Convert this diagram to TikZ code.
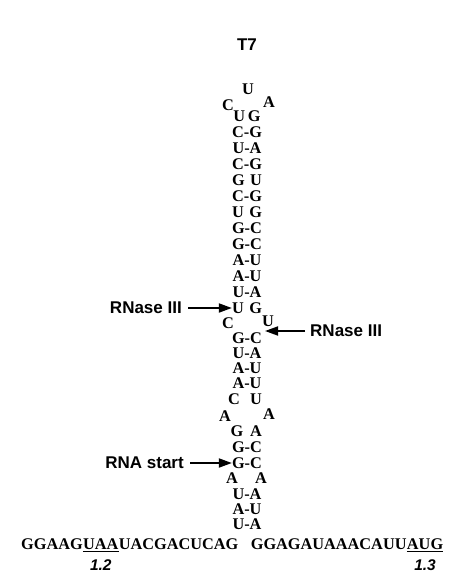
\documentclass[tikz,border=0pt]{standalone}
\usepackage{fontspec}
\setmainfont{Liberation Serif}
\newfontfamily\lsans{Liberation Sans}
\usetikzlibrary{arrows.meta,calc}
\tikzset{
  nt/.style={inner sep=0pt, font=\fontsize{16.3}{16}\selectfont\bfseries},
  lab/.style={inner sep=0pt, font=\lsans\fontsize{17}{17}\selectfont\bfseries},
  num/.style={inner sep=0pt, font=\lsans\fontsize{15.5}{15.5}\selectfont\bfseries\itshape},
  seq/.style={inner sep=0pt, anchor=base west, font=\fontsize{16.3}{16}\selectfont\bfseries},
  arr/.style={line width=1.8pt, -{Triangle[length=13pt,width=9pt]}},
  uline/.style={line width=1pt}
}
\newcommand{\gap}{\hphantom{-}}
\begin{document}
\begin{tikzpicture}[x=1pt,y=-1pt]
\useasboundingbox (0,0) rectangle (462,576);
% title
\node[lab] (t7) at (247,45) {T7};
% hairpin loop
\node[nt] (lU) at (248,89) {U};
\node[nt] (lC) at (228,105) {C};
\node[nt] (lA) at (269,102) {A};
\node[nt] (l0) at (247,116) {U\,G};
% upper stem
\node[nt] (r1) at (247,132) {C-G};
\node[nt] (r2) at (247,148) {U-A};
\node[nt] (r3) at (247,164) {C-G};
\node[nt] (r4) at (247,180) {G\gap U};
\node[nt] (r5) at (247,196) {C-G};
\node[nt] (r6) at (247,212) {U\gap G};
\node[nt] (r7) at (247,228) {G-C};
\node[nt] (r8) at (247,244) {G-C};
\node[nt] (r9) at (247,260) {A-U};
\node[nt] (r10) at (247,276) {A-U};
\node[nt] (r11) at (247,292) {U-A};
\node[nt] (r12) at (247,308) {U\gap G};
% bulge
\node[nt] (bC) at (228,323) {C};
\node[nt] (bU) at (268,321) {U};
% middle stem
\node[nt] (r13) at (247,338) {G-C};
\node[nt] (r14) at (247,353) {U-A};
\node[nt] (r15) at (247,368) {A-U};
\node[nt] (r16) at (247,383) {A-U};
\node[nt] (r17a) at (234,399) {C};
\node[nt] (r17b) at (256,399) {U};
% internal loop
\node[nt] (iA1) at (225,416) {A};
\node[nt] (iA2) at (269,414) {A};
\node[nt] (r18a) at (237,431) {G};
\node[nt] (r18b) at (256,431) {A};
\node[nt] (r19) at (247,447) {G-C};
\node[nt] (r20) at (247,463) {G-C};
\node[nt] (r21a) at (232,478) {A};
\node[nt] (r21b) at (261,478) {A};
\node[nt] (r22) at (247,494) {U-A};
\node[nt] (r23) at (247,509) {A-U};
\node[nt] (r24) at (247,524) {U-A};
% bottom sequence
\node[seq] (p1) at (21,549) {GGAAG};
\node[seq] (u1) at (p1.base east) {UAA};
\node[seq] (p2) at (u1.base east) {UACGACUCAG};
\node[seq] (p3) at ($(p2.base east)+(12,0)$) {GGAGAUAAACAUU};
\node[seq] (u2) at (p3.base east) {AUG};
\draw[uline] ($(u1.base west)+(0,2)$) -- ($(u1.base east)+(0,2)$);
\draw[uline] ($(u2.base west)+(0,2)$) -- ($(u2.base east)+(0,2)$);
\node[num] (n12) at ($(u1.base)+(0,16)$) {1.2};
\node[num] (n13) at ($(u2.base)+(0,16)$) {1.3};
% RNase III left
\node[lab, anchor=east] (rl) at (182,308) {RNase III};
\draw[arr] ($(rl.east)+(6,0)$) -- (r12.west);
% RNase III right
\node[lab, anchor=west] (rr) at (310,331) {RNase III};
\draw[arr] ($(rr.west)+(-5,0)$) -- (265,331);
% RNA start
\node[lab, anchor=east] (rs) at (184,463) {RNA start};
\draw[arr] ($(rs.east)+(6,0)$) -- (r20.west);
\end{tikzpicture}
\end{document}
